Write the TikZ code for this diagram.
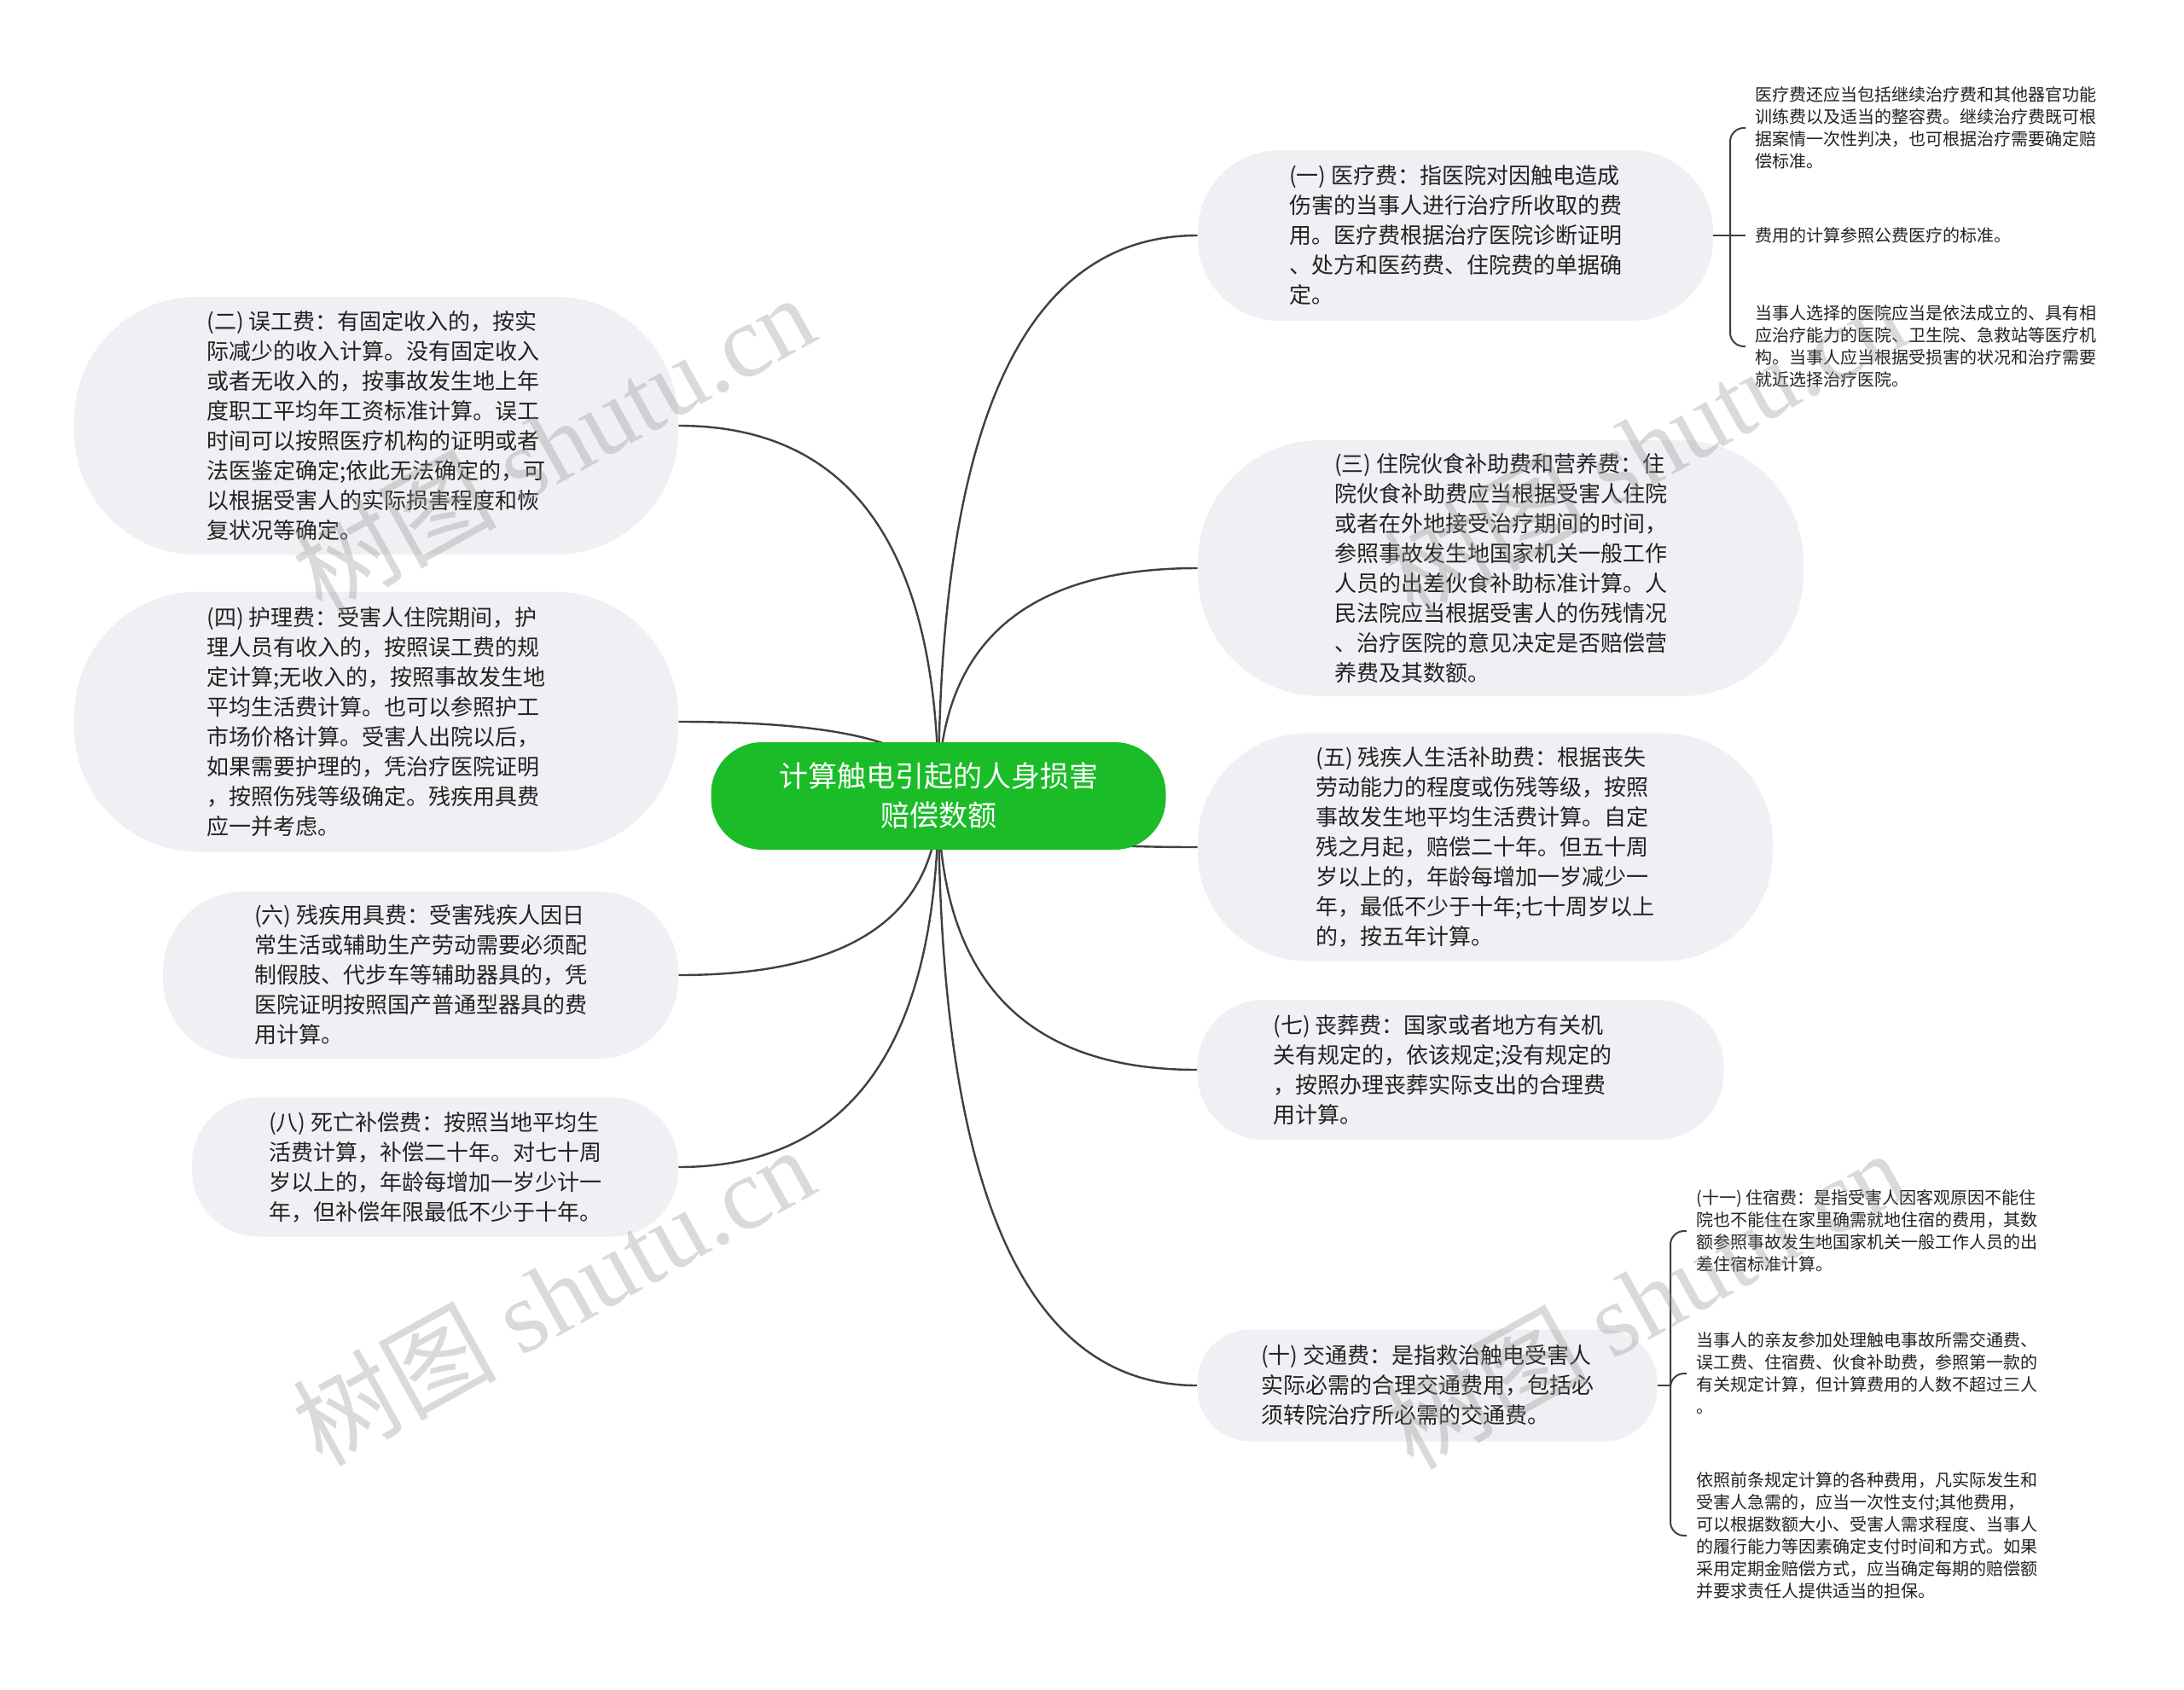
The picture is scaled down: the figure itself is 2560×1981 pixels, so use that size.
\documentclass[tikz,border=0pt]{standalone}
\usepackage{fontspec}
\setmainfont{Noto Sans CJK SC}
\newfontfamily\wmlat{Liberation Serif}
\usetikzlibrary{calc}
\pgfdeclarelayer{bg}
\pgfsetlayers{bg,main}
\definecolor{pillfill}{RGB}{238,240,243}
\definecolor{rootgreen}{RGB}{26,188,40}
\definecolor{linegray}{RGB}{64,64,64}
\definecolor{txt}{RGB}{34,34,34}
\definecolor{wmgray}{RGB}{150,150,150}
\begin{document}
\begin{tikzpicture}[x=0.5pt,y=-0.5pt,
  pill/.style={rectangle, fill=pillfill, text=txt, align=left, inner sep=0pt,
    font=\fontsize{13pt}{17.5pt}\selectfont},
  root/.style={rectangle, fill=rootgreen, text=white, align=center, inner sep=0pt,
    font=\fontsize{17pt}{23pt}\selectfont},
  leaf/.style={align=left, anchor=west, inner xsep=5.5pt, inner ysep=0pt, text=txt,
    font=\fontsize{10pt}{13pt}\selectfont},
  link/.style={draw=linegray, line width=1.2pt,
    to path={.. controls ($(\tikztostart)!0.667!(\tikztostart |- \tikztotarget)$)
      and ($(\tikztotarget)!0.667!(\tikztostart |- \tikztotarget)$) .. (\tikztotarget)}},
  brk/.style={draw=linegray, line width=1pt, rounded corners=8pt},
  wm/.style={text=wmgray, opacity=0.35, rotate=29, inner sep=0pt,
    font=\fontsize{60pt}{60pt}\selectfont}
]
\useasboundingbox (0,0) rectangle (2560,1981);
\begin{pgfonlayer}{bg}
\fill[white] (0,0) rectangle (2560,1981);
\end{pgfonlayer}

% root
\node[root, minimum width=266.5pt, minimum height=63pt, rounded corners=30pt] (root) at (1100,933)
  {计算触电引起的人身损害\\赔偿数额};

% right branches
\node[pill, minimum width=302pt, minimum height=100pt, rounded corners=48pt] (n1) at (1706,276)
  {(一) 医疗费：指医院对因触电造成\\伤害的当事人进行治疗所收取的费\\用。医疗费根据治疗医院诊断证明\\、处方和医药费、住院费的单据确\\定。};
\node[pill, minimum width=355pt, minimum height=150pt, rounded corners=72pt] (n3) at (1759,666)
  {(三) 住院伙食补助费和营养费：住\\院伙食补助费应当根据受害人住院\\或者在外地接受治疗期间的时间，\\参照事故发生地国家机关一般工作\\人员的出差伙食补助标准计算。人\\民法院应当根据受害人的伤残情况\\、治疗医院的意见决定是否赔偿营\\养费及其数额。};
\node[pill, minimum width=337pt, minimum height=133.5pt, rounded corners=64pt] (n5) at (1741,993)
  {(五) 残疾人生活补助费：根据丧失\\劳动能力的程度或伤残等级，按照\\事故发生地平均生活费计算。自定\\残之月起，赔偿二十年。但五十周\\岁以上的，年龄每增加一岁减少一\\年，最低不少于十年;七十周岁以上\\的，按五年计算。};
\node[pill, minimum width=308.5pt, minimum height=82pt, rounded corners=39pt] (n7) at (1712,1254)
  {(七) 丧葬费：国家或者地方有关机\hspace*{26pt}\\关有规定的，依该规定;没有规定的\\，按照办理丧葬实际支出的合理费\\用计算。};
\node[pill, minimum width=269.5pt, minimum height=65.5pt, rounded corners=31pt] (n10) at (1673,1624)
  {(十) 交通费：是指救治触电受害人\\实际必需的合理交通费用，包括必\\须转院治疗所必需的交通费。};

% left branches
\node[pill, minimum width=354pt, minimum height=151pt, rounded corners=72pt] (n2) at (441,499)
  {(二) 误工费：有固定收入的，按实\\际减少的收入计算。没有固定收入\\或者无收入的，按事故发生地上年\\度职工平均年工资标准计算。误工\\时间可以按照医疗机构的证明或者\\法医鉴定确定;依此无法确定的，可\\以根据受害人的实际损害程度和恢\\复状况等确定。};
\node[pill, minimum width=354pt, minimum height=152.5pt, rounded corners=73pt] (n4) at (441,846)
  {(四) 护理费：受害人住院期间，护\\理人员有收入的，按照误工费的规\\定计算;无收入的，按照事故发生地\\平均生活费计算。也可以参照护工\\市场价格计算。受害人出院以后，\\如果需要护理的，凭治疗医院证明\\，按照伤残等级确定。残疾用具费\\应一并考虑。};
\node[pill, minimum width=302pt, minimum height=98pt, rounded corners=47pt] (n6) at (493,1143)
  {(六) 残疾用具费：受害残疾人因日\\常生活或辅助生产劳动需要必须配\\制假肢、代步车等辅助器具的，凭\\医院证明按照国产普通型器具的费\\用计算。};
\node[pill, minimum width=285pt, minimum height=81.5pt, rounded corners=39pt] (n8) at (510,1368)
  {(八) 死亡补偿费：按照当地平均生\\活费计算，补偿二十年。对七十周\\岁以上的，年龄每增加一岁少计一\\年，但补偿年限最低不少于十年。};

% leaves of (一)
\coordinate (b1) at (2028,276);
\node[leaf] (l11) at (2046,150)
  {医疗费还应当包括继续治疗费和其他器官功能\\训练费以及适当的整容费。继续治疗费既可根\\据案情一次性判决，也可根据治疗需要确定赔\\偿标准。};
\node[leaf] (l12) at (2046,276) {费用的计算参照公费医疗的标准。};
\node[leaf] (l13) at (2046,406)
  {当事人选择的医院应当是依法成立的、具有相\\应治疗能力的医院、卫生院、急救站等医疗机\\构。当事人应当根据受损害的状况和治疗需要\\就近选择治疗医院。};

% leaves of (十)
\coordinate (b2) at (1958,1624);
\node[leaf] (l21) at (1977,1443)
  {(十一) 住宿费：是指受害人因客观原因不能住\\院也不能住在家里确需就地住宿的费用，其数\\额参照事故发生地国家机关一般工作人员的出\\差住宿标准计算。};
\node[leaf] (l22) at (1977,1610)
  {当事人的亲友参加处理触电事故所需交通费、\\误工费、住宿费、伙食补助费，参照第一款的\\有关规定计算，但计算费用的人数不超过三人\\。};
\node[leaf] (l23) at (1977,1800)
  {依照前条规定计算的各种费用，凡实际发生和\\受害人急需的，应当一次性支付;其他费用，\\可以根据数额大小、受害人需求程度、当事人\\的履行能力等因素确定支付时间和方式。如果\\采用定期金赔偿方式，应当确定每期的赔偿额\\并要求责任人提供适当的担保。};

\begin{pgfonlayer}{bg}
  \draw[link] (root.center) to (n1.west);
  \draw[link] (root.center) to (n3.west);
  \draw[link] (root.center) to (n5.west);
  \draw[link] (root.center) to (n7.west);
  \draw[link] (root.center) to (n10.west);
  \draw[link] (root.center) to (n2.east);
  \draw[link] (root.center) to (n4.east);
  \draw[link] (root.center) to (n6.east);
  \draw[link] (root.center) to (n8.east);
\end{pgfonlayer}

\draw[brk] (n1.east) -- (b1);
\draw[brk] (b1) |- (l11.west);
\draw[brk] (b1) -- (l12.west);
\draw[brk] (b1) |- (l13.west);
\draw[brk] (n10.east) -- (b2);
\draw[brk] (b2) |- (l21.west);
\draw[brk] (b2) |- (l22.west);
\draw[brk] (b2) |- (l23.west);

% watermarks
\node[wm] (wm1) at (648,519) {树图 {\wmlat shutu.cn}};
\node[wm] (wm2) at (648,1518) {树图 {\wmlat shutu.cn}};
\node[wm] (wm3) at (1927,523) {树图 {\wmlat shutu.cn}};
\node[wm] (wm4) at (1927,1522) {树图 {\wmlat shutu.cn}};
\end{tikzpicture}
\end{document}
